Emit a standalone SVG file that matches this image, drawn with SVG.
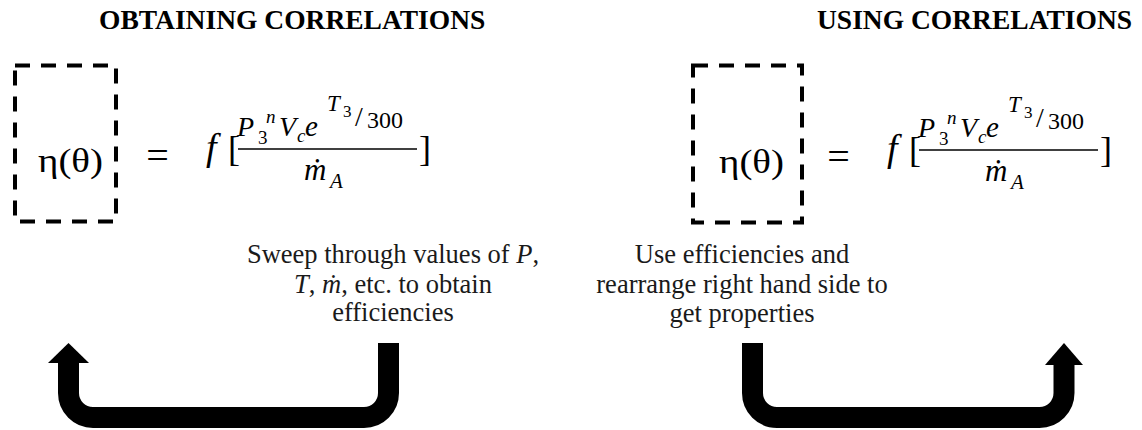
<svg xmlns="http://www.w3.org/2000/svg" width="1142" height="430" viewBox="0 0 1142 430">
<style>
.t{font-family:"Liberation Serif","Times New Roman",serif;fill:#000}
.title{font-weight:bold;font-size:27.5px}
.body{font-size:26.5px;fill:#1a1a1a}
.i{font-style:italic}
.box{fill:none;stroke:#000;stroke-width:4;stroke-dasharray:15 11}
.conn{fill:none;stroke:#000;stroke-width:21}
.head{fill:#000}
</style>
<defs>
<g id="eq">
<text class="t" x="38" y="172" font-size="34" textLength="65" lengthAdjust="spacingAndGlyphs">η(θ)</text>
<text class="t" x="157.5" y="169" font-size="40" text-anchor="middle">=</text>
<text class="t i" x="206" y="160" font-size="38">f</text>
<text class="t" x="228" y="161" font-size="36">[</text>
<line x1="238" y1="149" x2="417" y2="149" stroke="#000" stroke-width="1.3"/>
<text class="t" x="419" y="161" font-size="36">]</text>
<text class="t i" x="237" y="136" font-size="28">P</text>
<text class="t i" x="266" y="123" font-size="19">n</text>
<text class="t" x="258" y="144" font-size="19">3</text>
<text class="t i" x="279" y="136" font-size="28">V</text>
<text class="t i" x="297" y="142" font-size="19">c</text>
<text class="t i" x="305" y="136" font-size="29">e</text>
<text class="t i" x="327" y="111" font-size="23">T</text>
<text class="t" x="343" y="117" font-size="17">3</text>
<text class="t" x="355" y="126" font-size="28">/</text>
<text class="t" x="367" y="128" font-size="24">300</text>
<text class="t i" x="304" y="180" font-size="31">ṁ</text>
<text class="t i" x="330" y="188" font-size="21">A</text>
</g>
</defs>
<g id="title-obtaining"><text class="t title" x="99" y="29">OBTAINING CORRELATIONS</text></g>
<g id="title-using"><text class="t title" x="817" y="29">USING CORRELATIONS</text></g>
<g id="node-left">
<rect class="box" x="15" y="65.5" width="101" height="156"/>
<use href="#eq"/>
</g>
<g id="node-right">
<rect class="box" x="693" y="65.5" width="109" height="157"/>
<use href="#eq" transform="translate(681,1)"/>
</g>
<g id="label-sweep">
<text class="t body" text-anchor="middle"><tspan x="393" y="263">Sweep through values  of <tspan class="i">P</tspan>,</tspan><tspan x="393" y="293"><tspan class="i">T</tspan>, <tspan class="i">ṁ</tspan>, etc. to obtain</tspan><tspan x="393" y="321">efficiencies</tspan></text>
</g>
<g id="label-use">
<text class="t body" text-anchor="middle"><tspan x="742" y="263">Use efficiencies  and</tspan><tspan x="742" y="293">rearrange right hand side to</tspan><tspan x="742" y="322">get properties</tspan></text>
</g>
<g id="connectors">
<path class="conn" d="M388.5,343 V393 A24.5,24.5 0 0 1 364,417.5 H93 A24.5,24.5 0 0 1 68.5,393 V361"/>
<polygon class="head" points="48,363 68.5,343 89,363"/>
<path class="conn" d="M752.5,343 V393 A24.5,24.5 0 0 0 777,417.5 H1039.5 A24.5,24.5 0 0 0 1064,393 V363"/>
<polygon class="head" points="1045,365 1064,343 1083,365"/>
</g>
</svg>
